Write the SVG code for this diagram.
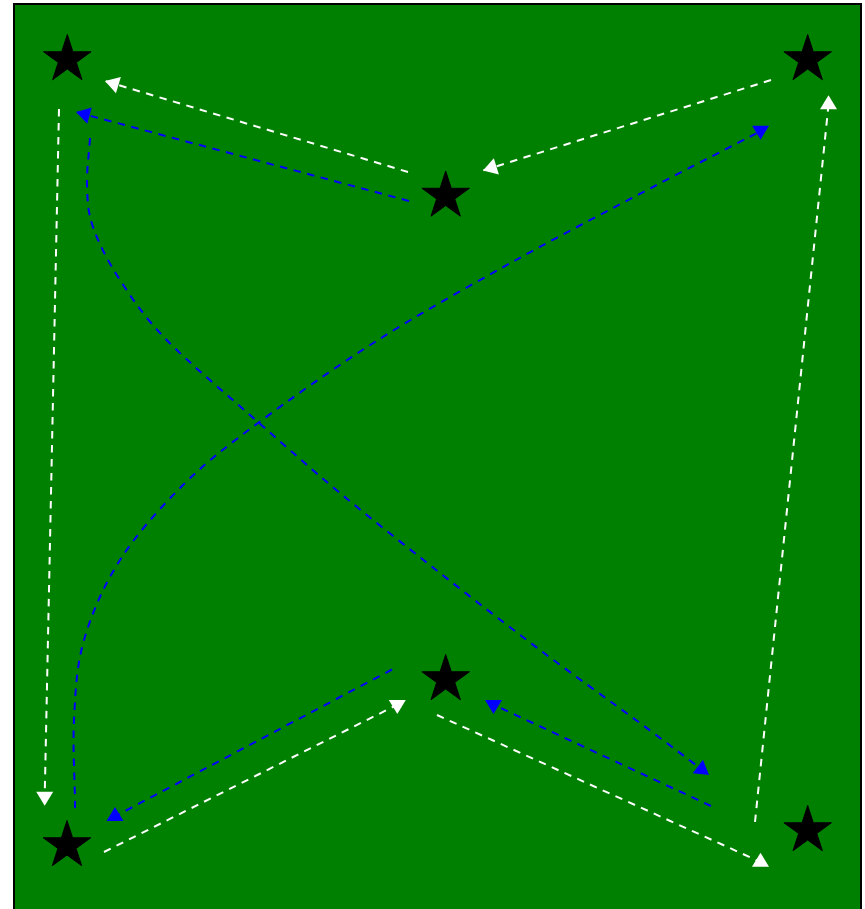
<svg xmlns="http://www.w3.org/2000/svg" xmlns:xlink="http://www.w3.org/1999/xlink" width="865" height="909" viewBox="0 0 865 909">
  <style>
    .field { fill: #008000; stroke: #000000; stroke-width: 2; }
    .star { fill: #000000; stroke: #000000; stroke-width: 1; stroke-linejoin: round; }
    .w { fill: none; stroke: #ffffff; stroke-width: 2; stroke-dasharray: 7.5 6.5; }
    .b { fill: none; stroke: #0000ff; stroke-width: 2; stroke-dasharray: 7.5 6.5; }
  </style>
  <defs>
    <polygon id="starShape" points="0,-25 5.61,-7.73 23.78,-7.73 9.08,2.95 14.69,20.23 0,9.55 -14.69,20.23 -9.08,2.95 -23.78,-7.73 -5.61,-7.73"/>
    <marker id="aw" markerUnits="userSpaceOnUse" markerWidth="15" markerHeight="18" refX="14" refY="8.5" orient="auto" overflow="visible">
      <path d="M0,0 L14,8.5 L0,17 Z" fill="#ffffff"/>
    </marker>
    <marker id="aw-d" markerUnits="userSpaceOnUse" markerWidth="15" markerHeight="18" refX="4.67" refY="8.5" orient="90" overflow="visible">
      <path d="M0,0 L14,8.5 L0,17 Z" fill="#ffffff"/>
    </marker>
    <marker id="aw-u" markerUnits="userSpaceOnUse" markerWidth="15" markerHeight="18" refX="4.67" refY="8.5" orient="270" overflow="visible">
      <path d="M0,0 L14,8.5 L0,17 Z" fill="#ffffff"/>
    </marker>
    <marker id="ab" markerUnits="userSpaceOnUse" markerWidth="15" markerHeight="18" refX="14" refY="8.5" orient="auto" overflow="visible">
      <path d="M0,0 L14,8.5 L0,17 Z" fill="#0000ff"/>
    </marker>
    <marker id="ab-d" markerUnits="userSpaceOnUse" markerWidth="15" markerHeight="18" refX="4.67" refY="8.5" orient="90" overflow="visible">
      <path d="M0,0 L14,8.5 L0,17 Z" fill="#0000ff"/>
    </marker>
    <marker id="ab-u" markerUnits="userSpaceOnUse" markerWidth="15" markerHeight="18" refX="4.67" refY="8.5" orient="270" overflow="visible">
      <path d="M0,0 L14,8.5 L0,17 Z" fill="#0000ff"/>
    </marker>
  </defs>

  <rect class="field" x="14" y="4" width="847" height="930"/>

  <g id="connectors">
    <path id="w1" class="w" d="M 408 172 L 105 81" marker-end="url(#aw)"/>
    <path id="w2" class="w" d="M 771 80 L 483 170.5" marker-end="url(#aw)"/>
    <path id="w3" class="w" d="M 59 109 L 44.7 796.3" marker-end="url(#aw-d)"/>
    <path id="w4" class="w" d="M 755 822 L 828.5 104.7" marker-end="url(#aw-u)"/>
    <path id="w5" class="w" d="M 104 852 L 397.3 704.7" marker-end="url(#aw-d)"/>
    <path id="w6" class="w" d="M 437 715 L 760.5 862" marker-end="url(#aw-u)"/>

    <path id="b1" class="b" d="M 409 201 L 76 112" marker-end="url(#ab)"/>
    <path id="b2" class="b" d="M 90 138 C 89 155, 86.5 170.2, 87 185 C 87.5 199.8, 87.5 211.2, 93 227 C 98.5 242.8, 107.7 261.2, 120 280 C 132.3 298.8, 143.7 316.3, 166.7 340 C 189.7 363.7, 229.1 396.5, 258 422 C 286.9 447.5, 309.7 467.8, 340 493 C 370.3 518.2, 406.7 546.8, 440 573 C 473.3 599.2, 506.7 625, 540 650 C 573.3 675, 611.8 702.2, 640 723 C 668.2 743.8, 697.5 766.3, 709 775" marker-end="url(#ab)"/>
    <path id="b3" class="b" d="M 75 808 C 75 780, 72.5 748, 74 720 C 75.5 692, 76.3 666.7, 84 640 C 91.7 613.3, 103.5 585.8, 120 560 C 136.5 534.2, 160 507.8, 183 485 C 206 462.2, 225.5 447.2, 258 423 C 290.5 398.8, 335 367.2, 378 340 C 421 312.8, 470.2 285.5, 516 260 C 561.8 234.5, 612.8 208.2, 653 187 C 693.2 165.8, 739.7 142, 757 133 L 760.6 130.3" marker-end="url(#ab-d)"/>
    <path id="b4" class="b" d="M 711 806 L 493.5 704.7" marker-end="url(#ab-d)"/>
    <path id="b5" class="b" d="M 392 669.5 L 115 816.4" marker-end="url(#ab-u)"/>
  </g>

  <g id="star-tl"><use xlink:href="#starShape" href="#starShape" class="star" x="67.3" y="59.5"/></g>
  <g id="star-tm"><use xlink:href="#starShape" href="#starShape" class="star" x="445.7" y="196"/></g>
  <g id="star-tr"><use xlink:href="#starShape" href="#starShape" class="star" x="807.7" y="59.5"/></g>
  <g id="star-bl"><use xlink:href="#starShape" href="#starShape" class="star" x="67" y="845.5"/></g>
  <g id="star-bm"><use xlink:href="#starShape" href="#starShape" class="star" x="445.7" y="679.5"/></g>
  <g id="star-br"><use xlink:href="#starShape" href="#starShape" class="star" x="807.7" y="830.5"/></g>
</svg>
